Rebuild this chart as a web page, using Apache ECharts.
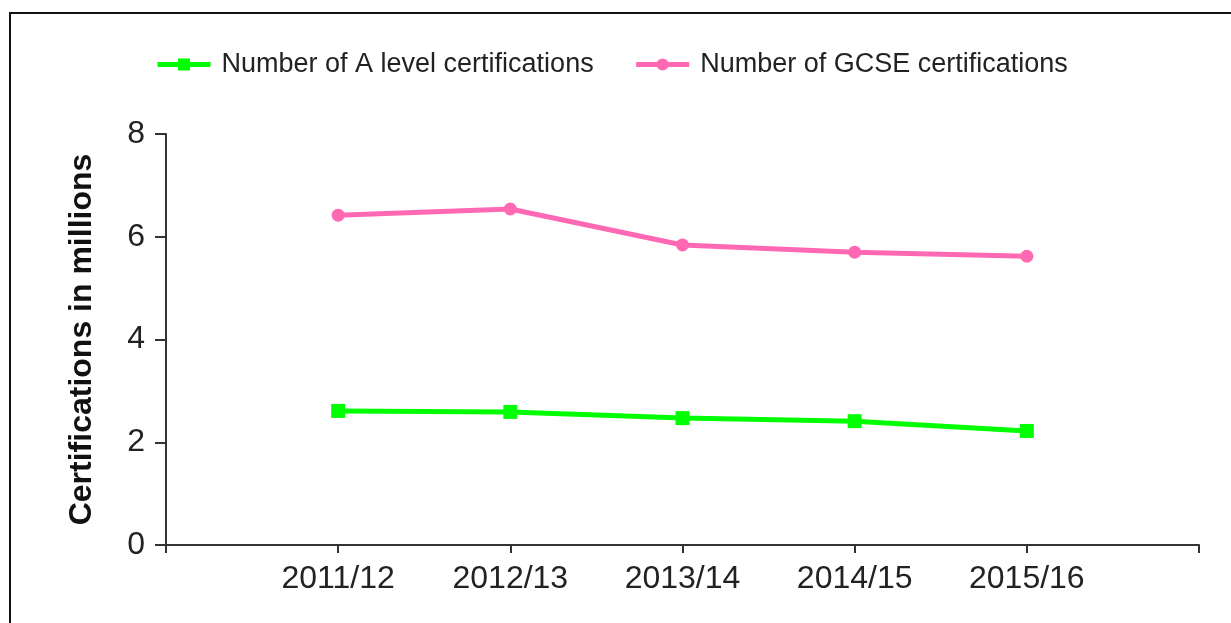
<!DOCTYPE html>
<html>
<head>
<meta charset="utf-8">
<script src="https://cdn.jsdelivr.net/npm/echarts@6/dist/echarts.min.js"></script>
<style>
  html, body { margin: 0; padding: 0; background: #fff; }
  #frame {
    position: absolute; left: 9px; top: 12px; right: 0; bottom: 0;
    border-top: 2px solid #111; border-left: 2px solid #111;
  }
  #chart { position: absolute; left: 0; top: 0; width: 1231px; height: 623px; }
</style>
</head>
<body>
<div id="frame"></div>
<div id="chart"></div>
<script>
// school years; blank slots either side leave the empty margin the original has
const years = ['2011/12', '2012/13', '2013/14', '2014/15', '2015/16'];
const aLevel = [2.61, 2.59, 2.47, 2.41, 2.22];
const gcse = [6.42, 6.54, 5.84, 5.70, 5.62];
const yTicks = [0, 2, 4, 6, 8];

const cats = [''].concat(years, ['']);
const pad = arr => [null].concat(arr, [null]);

const font = 'Arial, "Liberation Sans", sans-serif';
const axisColor = '#333';

let myChart = echarts.init(document.getElementById('chart'));
myChart.setOption({
  animation: false,
  textStyle: { fontFamily: font },
  legend: {
    left: 150,
    top: 46,
    itemWidth: 53,
    itemHeight: 15,
    itemGap: 40,
    lineStyle: { width: 5 },
    textStyle: { fontSize: 27, color: '#222', fontFamily: font, padding: [0, 0, 0, 6] },
    data: ['Number of A level certifications', 'Number of GCSE certifications']
  },
  grid: { left: 166, right: 32, top: 134, bottom: 78 },
  xAxis: {
    type: 'category',
    data: cats,
    boundaryGap: false,
    axisLine: { lineStyle: { color: axisColor, width: 2 } },
    axisTick: { show: true, length: 8, lineStyle: { color: axisColor, width: 2 } },
    axisLabel: { fontSize: 32, color: '#222', margin: 18, interval: 0 },
    splitLine: { show: false }
  },
  yAxis: {
    type: 'value',
    min: yTicks[0],
    max: yTicks[yTicks.length - 1],
    interval: 2,
    name: 'Certifications in millions',
    nameLocation: 'middle',
    nameGap: 68,
    nameTextStyle: { fontSize: 32, fontWeight: 'bold', color: '#111' },
    axisLine: { show: true, lineStyle: { color: axisColor, width: 2 } },
    axisTick: { show: true, length: 11, lineStyle: { color: axisColor, width: 2 } },
    axisLabel: { fontSize: 32, color: '#222', margin: 21 },
    splitLine: { show: false }
  },
  series: [
    {
      name: 'Number of A level certifications',
      type: 'line',
      data: pad(aLevel),
      color: '#00ff00',
      symbol: 'rect',
      symbolSize: 14,
      lineStyle: { width: 5 }
    },
    {
      name: 'Number of GCSE certifications',
      type: 'line',
      data: pad(gcse),
      color: '#ff69b4',
      symbol: 'circle',
      symbolSize: 13,
      lineStyle: { width: 5 }
    }
  ]
});
</script>
</body>
</html>
